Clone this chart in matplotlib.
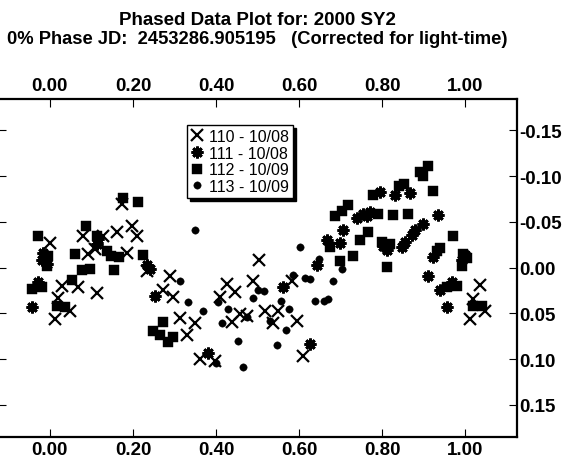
import matplotlib
matplotlib.use("Agg")
import matplotlib.pyplot as plt

plt.rcParams["font.family"] = ["Liberation Sans", "DejaVu Sans"]
plt.rcParams["font.weight"] = "bold"
plt.rcParams["axes.unicode_minus"] = False

# ---- phased photometry (phase, reduced magnitude) per session ----
phase_110 = [0.000, 0.079, 0.128, 0.161, 0.197, 0.209, 0.091, 0.185, 0.173, 0.108,
             0.233, 0.289, 0.029, 0.067, 0.113, 0.019, 0.048, 0.012, 0.272, 0.296,
             0.313, 0.349, 0.330, 0.361, 0.397, 0.409, 0.426, 0.445, 0.438, 0.457,
             0.474, 0.488, 0.503, 0.517, 0.537, 0.549, 0.582, 0.594, 0.609, 1.035,
             1.018, 1.047, 1.011]
mag_110 = [-0.027, -0.035, -0.035, -0.039, -0.046, -0.035, -0.015, -0.016, -0.070, -0.020,
           0.004, 0.009, 0.020, 0.021, 0.028, 0.033, 0.047, 0.056, 0.025, 0.032,
           0.055, 0.061, 0.074, 0.100, 0.102, 0.032, 0.018, 0.027, 0.059, 0.051,
           0.053, 0.015, -0.008, 0.048, 0.061, 0.047, 0.015, 0.058, 0.097, 0.019,
           0.034, 0.047, 0.056]

phase_111 = [-0.017, -0.019, -0.007, -0.029, -0.043, 0.253, 0.233, 0.241, 0.113, 0.116,
             0.380, 0.561, 0.626, 0.642, 0.667, 0.698, 0.705, 0.739, 0.753, 0.763,
             0.770, 0.794, 0.830, 0.866, 0.934, 0.898, 0.878, 0.871, 0.811, 0.847,
             0.854, 0.922, 0.991, 0.999, 0.910, 0.938, 0.967, 0.955, 0.801]
mag_111 = [-0.016, -0.008, -0.004, 0.016, 0.043, 0.031, -0.003, 0.002, -0.026, -0.031,
           0.093, 0.021, 0.084, -0.003, -0.030, -0.027, -0.041, -0.054, -0.059, -0.056,
           -0.061, -0.083, -0.079, -0.082, -0.057, -0.048, -0.041, -0.036, -0.019, -0.023,
           -0.028, -0.012, -0.008, -0.014, 0.009, 0.024, 0.016, 0.043, -0.024]

phase_112 = [-0.029, 0.087, 0.176, 0.212, 0.113, 0.137, 0.147, 0.166, 0.060, 0.224,
             0.077, 0.096, 0.154, 0.053, -0.043, -0.019, 0.017, 0.036, 0.272, 0.248,
             0.265, 0.284, 0.296, -0.005, -0.007, 0.686, 0.703, 0.717, 0.674, 0.746,
             0.765, 0.729, 0.698, 0.789, 0.825, 0.861, 0.777, 0.840, 0.852, 0.890,
             0.910, 0.898, 0.922, 0.799, 0.818, 0.811, 0.970, 0.938, 0.931, 0.994,
             1.003, 0.991, 0.955, 0.979, 1.018, 1.039]
mag_112 = [-0.035, -0.046, -0.076, -0.072, -0.035, -0.018, -0.013, -0.012, -0.015, -0.014,
           0.003, 0.002, 0.003, 0.014, 0.023, 0.021, 0.042, 0.043, 0.059, 0.069,
           0.074, 0.081, 0.076, -0.013, -0.002, -0.056, -0.062, -0.068, -0.023, -0.030,
           -0.039, -0.013, -0.007, -0.059, -0.057, -0.059, -0.079, -0.089, -0.091, -0.105,
           -0.111, -0.100, -0.084, -0.028, -0.026, -0.001, -0.035, -0.021, -0.018, -0.015,
           -0.011, -0.002, 0.021, 0.020, 0.042, 0.042]

phase_113 = [0.349, 0.602, 0.313, 0.332, 0.368, 0.399, 0.414, 0.428, 0.404, 0.452,
             0.464, 0.489, 0.501, 0.515, 0.474, 0.529, 0.546, 0.556, 0.568, 0.575,
             0.585, 0.614, 0.626, 0.638, 0.659, 0.669, 0.681, 0.703, 0.647]
mag_113 = [-0.041, -0.023, 0.015, 0.038, 0.048, 0.104, 0.061, 0.045, 0.038, 0.080,
           0.109, 0.033, 0.024, 0.026, 0.054, 0.058, 0.085, 0.036, 0.068, 0.045,
           0.008, 0.011, 0.013, 0.037, 0.037, 0.034, 0.015, 0.002, -0.009]

series_labels = ["110 - 10/08", "111 - 10/08", "112 - 10/09", "113 - 10/09"]

x_ticks = [0.0, 0.2, 0.4, 0.6, 0.8, 1.0]
x_tick_labels = ["0.00", "0.20", "0.40", "0.60", "0.80", "1.00"]
y_ticks = [-0.15, -0.10, -0.05, 0.0, 0.05, 0.10, 0.15]
y_tick_labels = ["-0.15", "-0.10", "-0.05", "0.00", "0.05", "0.10", "0.15"]

W, H = 570, 464
fig = plt.figure(figsize=(W / 100, H / 100), dpi=100)
ax = fig.add_axes([-2 / W, (H - 437.7) / H, 519.3 / W, (437.7 - 99.5) / H])

ax.plot(phase_110, mag_110, ls="none", marker="x", ms=8.3, mew=1.6, color="black",
        label=series_labels[0])
ax.plot(phase_111, mag_111, ls="none", marker=(8, 2, 0), ms=8.5, mew=2.0, color="black",
        label=series_labels[1])
ax.plot(phase_112, mag_112, ls="none", marker="s", ms=6.7, mew=0.3, color="black",
        label=series_labels[2])
ax.plot(phase_113, mag_113, ls="none", marker="o", ms=5.3, mew=0.3, color="black",
        label=series_labels[3])

ax.set_xlim(-0.125, 1.125)
ax.set_ylim(0.185, -0.185)

ax.set_xticks(x_ticks)
ax.set_xticklabels(x_tick_labels)
ax.set_yticks(y_ticks)
ax.set_yticklabels(y_tick_labels)

ax.tick_params(axis="both", direction="in", length=6, width=0.8, colors="black",
               labelsize=13.5, pad=3)
ax.tick_params(axis="x", top=True, bottom=True, labeltop=True, labelbottom=True)
ax.tick_params(axis="y", left=True, right=True, labelleft=False, labelright=True, pad=1.5)

for sp in ax.spines.values():
    sp.set_linewidth(1.6)
    sp.set_color("black")

leg = ax.legend(loc="upper left", bbox_to_anchor=(187 / W, 1 - 126 / H),
                bbox_transform=fig.transFigure, borderaxespad=0,
                prop={"weight": "normal", "size": 11.5},
                frameon=True, fancybox=False, edgecolor="black", framealpha=1,
                shadow={"color": "black", "alpha": 1},
                handlelength=0.8, handletextpad=0.35, borderpad=0.25,
                labelspacing=0.1, markerscale=1.0)
leg.get_frame().set_linewidth(1.0)

cx = (-2 + 517.3) / 2 / W
fig.text(cx, 1 - 25 / H, "Phased Data Plot for: 2000 SY2", ha="center", va="baseline",
         fontsize=13.5, fontweight="bold")
fig.text(cx, 1 - 44 / H, "0% Phase JD:  2453286.905195   (Corrected for light-time)",
         ha="center", va="baseline", fontsize=13.2, fontweight="bold")

fig.savefig("out.png", dpi=100, facecolor="white")
